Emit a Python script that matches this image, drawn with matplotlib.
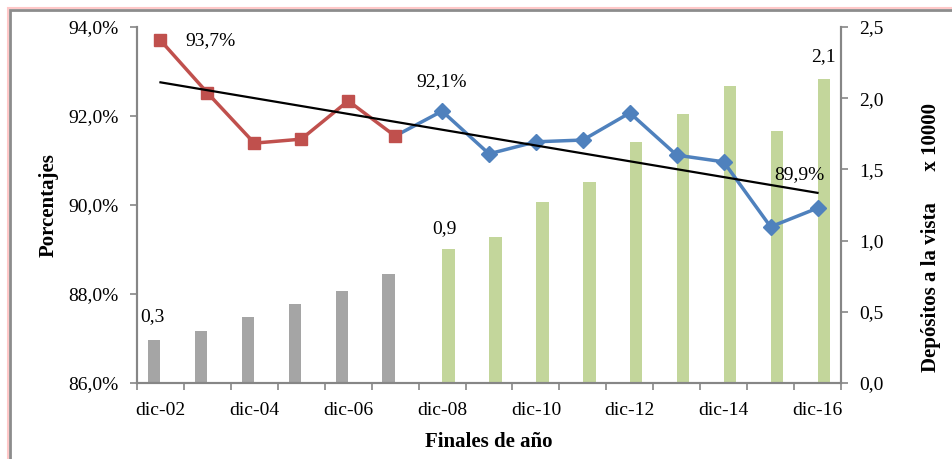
import numpy as np
import matplotlib
matplotlib.use("Agg")
import matplotlib.pyplot as plt
from matplotlib.ticker import FuncFormatter, FixedLocator
from matplotlib.patches import Rectangle

plt.rcParams['font.family'] = ['Liberation Serif', 'DejaVu Serif']

# data
years = ['dic-02', 'dic-03', 'dic-04', 'dic-05', 'dic-06', 'dic-07', 'dic-08', 'dic-09',
         'dic-10', 'dic-11', 'dic-12', 'dic-13', 'dic-14', 'dic-15', 'dic-16']
pct_red = [93.70, 92.52, 91.39, 91.48, 92.34, 91.55]          # dic-02 .. dic-07
pct_blue = [91.55, 92.11, 91.15, 91.42, 91.46, 92.07, 91.12,
            90.97, 89.51, 89.93]                               # dic-07 .. dic-16
dep_grey = [0.30, 0.365, 0.46, 0.555, 0.646, 0.765]           # dic-02 .. dic-07
dep_green = [0.94, 1.025, 1.27, 1.41, 1.69, 1.89, 2.085, 1.77, 2.135]  # dic-08 .. dic-16

red = '#C0504D'
blue = '#4F81BD'
green = '#C3D69B'
grey = '#A5A5A5'
spine = '#868686'

fig = plt.figure(figsize=(9.52, 4.59), dpi=100)

# outer frame (pink + grey), running off the right and bottom edges
fig.patches.append(Rectangle((7.5/952, -0.1), 2, 1 - 7.5/459 + 0.1, transform=fig.transFigure,
                             fill=False, edgecolor='#FFC8C8', lw=1.5))
fig.patches.append(Rectangle((10/952, -0.1), 2, 1 - 10/459 + 0.1, transform=fig.transFigure,
                             fill=False, edgecolor='#8C8C8C', lw=2))

ax = fig.add_axes([137/952, 1 - 383/459, 704/952, 356/459])
ax2 = ax.twinx()
ax.set_zorder(ax2.get_zorder() + 1)
ax.patch.set_visible(False)

x = np.arange(len(years))
bw = 0.27
ax2.bar(x[:6] - bw/2, dep_grey, width=bw, color=grey)
ax2.bar(x[6:] + bw/2, dep_green, width=bw, color=green)

# lines
ax.plot(x[5:], pct_blue, color=blue, lw=2.5, marker='D', ms=8, markevery=list(range(1, 10)), zorder=3)
ax.plot(x[:6], pct_red, color=red, lw=2.5, marker='s', ms=9, zorder=4)

# linear trend over the whole period
all_pct = np.array(pct_red + pct_blue[1:])
k, b = np.polyfit(x, all_pct, 1)
ax.plot([x[0], x[-1]], [k * x[0] + b, k * x[-1] + b], color='black', lw=1.6, zorder=5)

ax.set_xlim(-0.5, len(years) - 0.5)
ax.set_ylim(86, 94)
ax2.set_ylim(0, 2.5)
ax.set_yticks([86, 88, 90, 92, 94])
ax2.set_yticks([0, 0.5, 1.0, 1.5, 2.0, 2.5])
ax.yaxis.set_major_formatter(FuncFormatter(lambda v, p: f'{v:.1f}%'.replace('.', ',')))
ax2.yaxis.set_major_formatter(FuncFormatter(lambda v, p: f'{v:.1f}'.replace('.', ',')))

fs = 14
ax.set_xticks(x[::2])
ax.set_xticklabels(years[::2])
ax.xaxis.set_minor_locator(FixedLocator(np.arange(-0.5, len(years), 1)))
ax.tick_params(axis='x', which='major', length=0, pad=14, labelsize=fs)
ax.tick_params(axis='x', which='minor', length=5, width=1.2, color=spine, direction='out')
ax.tick_params(axis='y', length=5, width=1.2, color=spine, labelsize=fs, pad=8)
ax2.tick_params(axis='y', length=5, width=1.2, color=spine, labelsize=fs, pad=8)

for a in (ax, ax2):
    a.spines['top'].set_visible(False)
    for s in ('left', 'right', 'bottom'):
        a.spines[s].set_color(spine)
        a.spines[s].set_linewidth(1.5)

ax.set_xlabel('Finales de año', fontsize=15, fontweight='bold', labelpad=9)
ax.set_ylabel('Porcentajes', fontsize=15, fontweight='bold', labelpad=7)
ax2.set_ylabel('Depósitos a la vista      x 10000', fontsize=15, fontweight='bold')
ax2.yaxis.set_label_coords(1.114, 0.41)

# data labels
def fmt(v, pct=False):
    s = f'{v:.1f}'.replace('.', ',')
    return s + '%' if pct else s

ax.annotate(fmt(pct_red[0], True), (x[0], pct_red[0]), xytext=(18, 0), textcoords='offset points',
            fontsize=fs, va='center', ha='left')
ax.annotate(fmt(pct_blue[1], True), (x[6], pct_blue[1]), xytext=(0, 21), textcoords='offset points',
            fontsize=fs, va='center', ha='center')
ax.annotate(fmt(pct_blue[-1], True), (x[-1], pct_blue[-1]), xytext=(-13, 24), textcoords='offset points',
            fontsize=fs, va='center', ha='center')
ax2.annotate(fmt(dep_grey[0]), (x[0] - bw/2, dep_grey[0]), xytext=(-1, 17), textcoords='offset points',
             fontsize=fs, va='center', ha='center')
ax2.annotate(fmt(dep_green[0]), (x[6] + bw/2, dep_green[0]), xytext=(-3, 15), textcoords='offset points',
             fontsize=fs, va='center', ha='center')
ax2.annotate(fmt(dep_green[-1]), (x[-1] + bw/2, dep_green[-1]), xytext=(0, 16), textcoords='offset points',
             fontsize=fs, va='center', ha='center')

fig.savefig('out.png', dpi=100)
